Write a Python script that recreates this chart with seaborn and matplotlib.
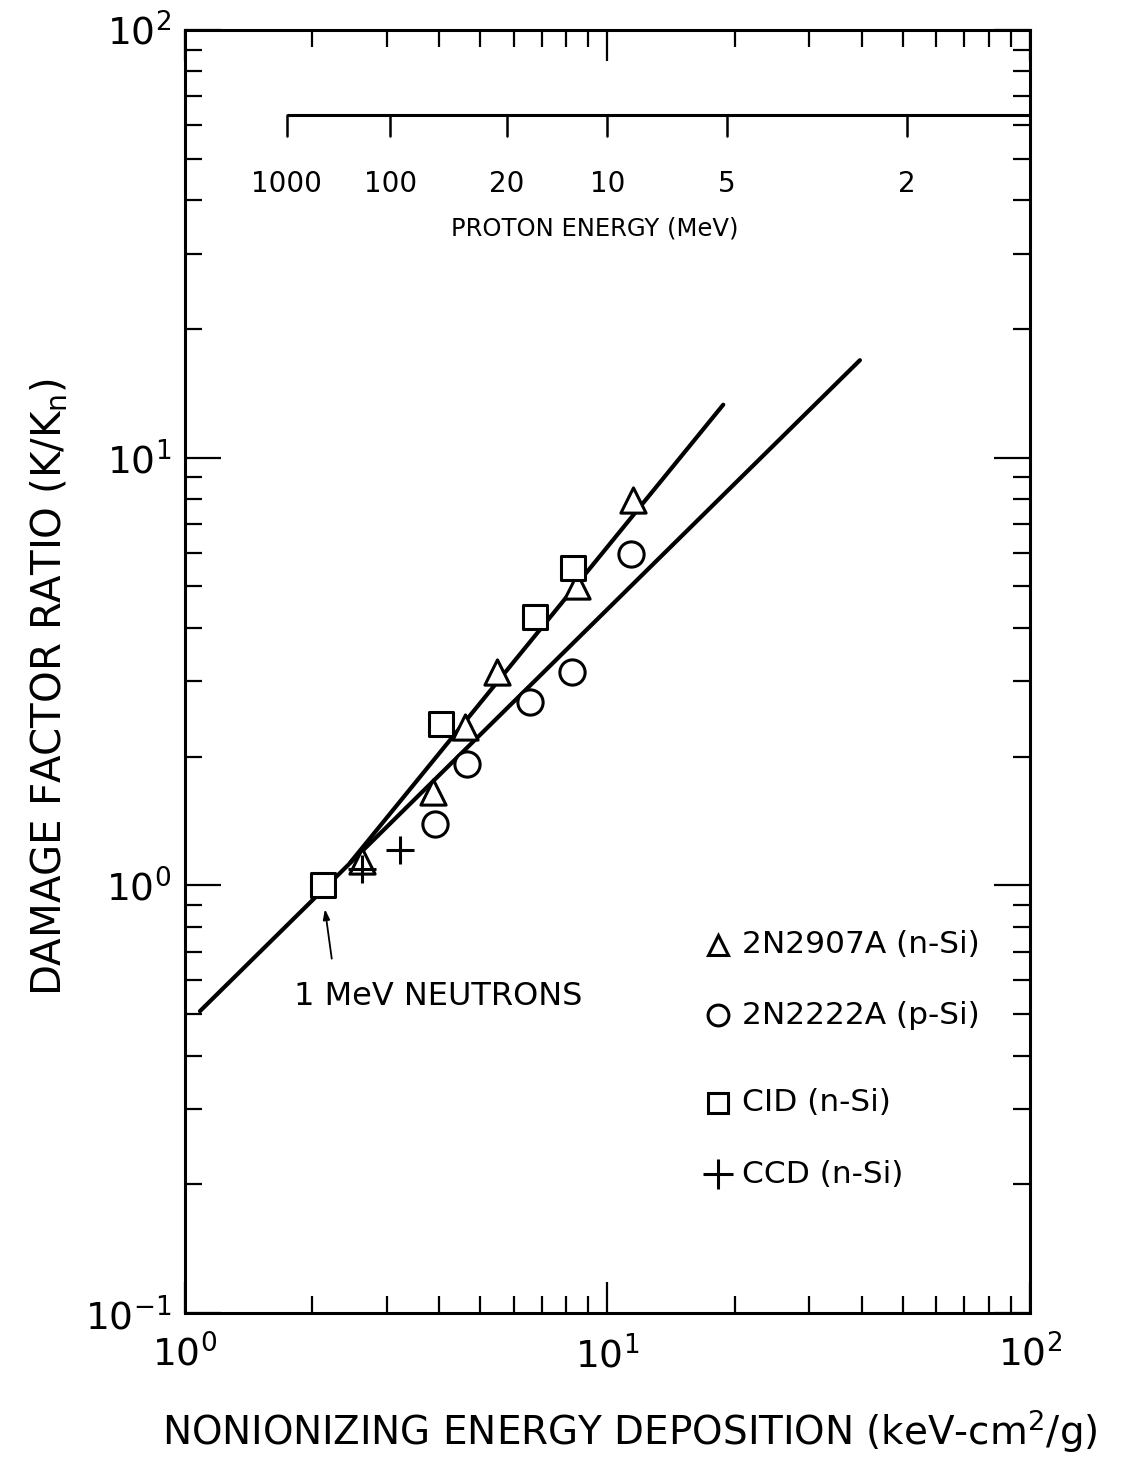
import matplotlib
matplotlib.use("Agg")
import matplotlib.pyplot as plt
import matplotlib.transforms as mtransforms
import seaborn as sns

# --- measured points (NIEL in keV-cm^2/g, damage factor ratio K/Kn) ---
tri_x = [2.62, 3.86, 4.60, 5.48, 8.47, 11.5]
tri_y = [1.14, 1.65, 2.34, 3.16, 5.0, 7.98]

circ_x = [3.91, 4.65, 6.55, 8.24, 11.4]
circ_y = [1.39, 1.92, 2.69, 3.16, 5.94]

sq_x = [2.12, 4.04, 6.74, 8.29]
sq_y = [1.0, 2.38, 4.25, 5.53]

plus_x = [2.62, 3.23]
plus_y = [1.09, 1.21]

# fitted trend lines
fit_n_x = [2.46, 18.8]
fit_n_y = [1.13, 13.3]
fit_p_x = [1.085, 39.6]
fit_p_y = [0.508, 16.9]

# proton energy scale along the top
proton_labels = ["1000", "100", "20", "10", "5", "2"]
proton_niel = [1.74, 3.06, 5.78, 10.0, 19.2, 51.2]

legend_labels = ["2N2907A (n-Si)", "2N2222A (p-Si)", "CID (n-Si)", "CCD (n-Si)"]

sns.set_style("ticks")
plt.rcParams["font.family"] = ["DejaVu Sans"]
for key in ["text.color", "axes.labelcolor", "xtick.color", "ytick.color", "axes.edgecolor"]:
    plt.rcParams[key] = "black"

fig = plt.figure(figsize=(11.28, 14.63), dpi=100)
ax = fig.add_axes([0.164, 0.1025, 0.749, 0.8770])
ax.set_xscale("log")
ax.set_yscale("log")
ax.set_xlim(1, 100)
ax.set_ylim(0.1, 100)

# trend lines
sns.lineplot(x=fit_n_x, y=fit_n_y, color="black", lw=3, ax=ax, zorder=2)
sns.lineplot(x=fit_p_x, y=fit_p_y, color="black", lw=3, ax=ax, zorder=2)

# data markers
mk = dict(facecolor="white", edgecolor="black", linewidth=2.2, zorder=3, ax=ax, legend=False)
sns.scatterplot(x=tri_x, y=tri_y, marker="^", s=330, **mk)
sns.scatterplot(x=circ_x, y=circ_y, marker="o", s=330, **mk)
sns.scatterplot(x=sq_x, y=sq_y, marker="s", s=290, **mk)
sns.scatterplot(x=plus_x, y=plus_y, marker="+", s=420, color="black",
                linewidth=2.2, zorder=4, ax=ax, legend=False)

# frame and ticks
for sp in ax.spines.values():
    sp.set_linewidth(2.2)
    sp.set_visible(True)
    sp.set_color("black")
ax.tick_params(which="both", direction="in", top=True, right=True, width=1.6, color="black")
ax.tick_params(axis="y", which="major", length=26, labelsize=27, pad=10)
ax.tick_params(axis="y", which="minor", length=12)
ax.tick_params(axis="x", which="major", length=22, labelsize=27, pad=16)
ax.tick_params(axis="x", which="minor", length=12)

ax.set_xlabel("NONIONIZING ENERGY DEPOSITION (keV-cm$^2$/g)", fontsize=28, va="center")
ax.xaxis.set_label_coords(0.527, -0.092)
ax.set_ylabel(r"DAMAGE FACTOR RATIO (K/K$_\mathregular{n}$)", fontsize=29, va="center")
ax.yaxis.set_label_coords(-0.16, 0.488)

# proton energy scale
btr = mtransforms.blended_transform_factory(ax.transData, ax.transAxes)
ax.plot([proton_niel[0], 100], [0.934, 0.934], color="black", lw=2.2,
        transform=btr, clip_on=False, solid_capstyle="butt")
for xv, lab in zip(proton_niel, proton_labels):
    ax.plot([xv, xv], [0.934, 0.917], color="black", lw=1.8, transform=btr)
    ax.text(xv, 0.880, lab, transform=btr, ha="center", va="center", fontsize=20)
ax.text(9.33, 0.845, "PROTON ENERGY (MeV)", transform=btr, ha="center",
        va="center", fontsize=17.5)

# neutron reference annotation
ax.annotate("", xy=(2.14, 0.893), xytext=(2.23, 0.664),
            arrowprops=dict(arrowstyle="-|>,head_length=0.6,head_width=0.2",
                            color="black", lw=1.3))
ax.text(3.97, 0.551, "1 MeV NEUTRONS", ha="center", va="center", fontsize=23)

# key
key_markers = ["^", "o", "s", "+"]
key_rows = [0.287, 0.232, 0.164, 0.108]
for m, lab, yy in zip(key_markers, legend_labels, key_rows):
    if m == "+":
        ax.plot([0.631], [yy], marker="+", ms=22, mew=2.2, color="black",
                transform=ax.transAxes, linestyle="none")
    else:
        ax.plot([0.631], [yy], marker=m, ms=15, mew=2.2, mfc="white", mec="black",
                transform=ax.transAxes, linestyle="none")
    ax.text(0.659, yy, lab, transform=ax.transAxes, ha="left", va="center", fontsize=22.5)

fig.savefig("out.png", dpi=100)
